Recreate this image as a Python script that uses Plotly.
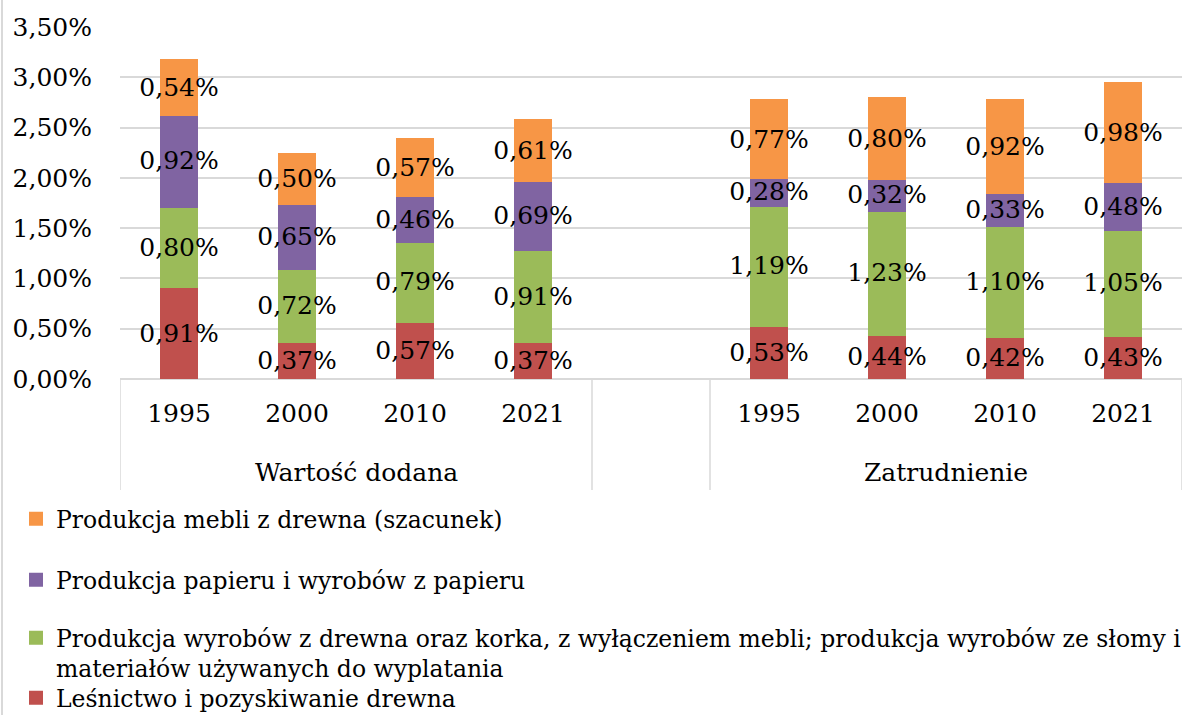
import plotly.graph_objects as go

groups = ["Wartość dodana", "Zatrudnienie"]
years = ["1995", "2000", "2010", "2021"]

series_names = [
    "Leśnictwo i pozyskiwanie drewna",
    "Produkcja wyrobów z drewna oraz korka, z wyłączeniem mebli; produkcja wyrobów ze słomy i<br>materiałów używanych do wyplatania",
    "Produkcja papieru i wyrobów z papieru",
    "Produkcja mebli z drewna (szacunek)",
]
colors = ["#C0504D", "#9BBB59", "#8064A2", "#F79646"]

# values in percent: first 4 = Wartość dodana, last 4 = Zatrudnienie
lesnictwo = [0.91, 0.37, 0.57, 0.37, 0.53, 0.44, 0.42, 0.43]
drewno = [0.80, 0.72, 0.79, 0.91, 1.19, 1.23, 1.10, 1.05]
papier = [0.92, 0.65, 0.46, 0.69, 0.28, 0.32, 0.33, 0.48]
meble = [0.54, 0.50, 0.57, 0.61, 0.77, 0.80, 0.92, 0.98]
values = [lesnictwo, drewno, papier, meble]

# category slots: 4 years, empty gap, 4 years
xpos = [0, 1, 2, 3, 5, 6, 7, 8]
xlabels = years + years

FONT = "DejaVu Serif"
W, H = 1192, 715
ML, MR, MT, MB = 120, 10, 27, 336
PH = H - MT - MB
PW = W - ML - MR


def py(p):
    return (H - MB - p) / PH


def px(p):
    return (p - ML) / PW


fig = go.Figure()
legend_ids = ["legend4", "legend3", "legend2", "legend"]
for name, col, vals, lg in zip(series_names, colors, values, legend_ids):
    fig.add_trace(go.Bar(
        x=xpos, y=vals, name=name,
        marker=dict(color=col, line=dict(color=col, width=2)),
        width=0.30,
        texttemplate="%{y:.2f}%",
        textposition="inside",
        insidetextanchor="middle",
        constraintext="none",
        textangle=0,
        textfont=dict(family=FONT, size=25, color="black"),
        legend=lg,
        hoverinfo="skip",
    ))

legend_tops = [497, 558, 616, 676]
leg_common = dict(font=dict(family=FONT, size=23.5, color="black"), bgcolor="rgba(0,0,0,0)",
                  xref="container", yref="container",
                  xanchor="left", yanchor="top", valign="top", itemclick=False)
layout_legends = {}
for i, lg in enumerate(["legend", "legend2", "legend3", "legend4"]):
    layout_legends[lg] = dict(x=16 / W, y=1 - legend_tops[i] / H, **leg_common)

shapes = []
for xv in [-0.5, 3.5, 4.5, 8.5]:
    shapes.append(dict(type="line", xref="x", yref="paper", x0=xv, x1=xv,
                       y0=0, y1=py(490), line=dict(color="#d9d9d9", width=1.5)))
shapes.append(dict(type="line", xref="paper", yref="paper", x0=px(2), x1=px(2),
                   y0=py(0), y1=py(715), line=dict(color="#d9d9d9", width=2)))

annotations = []
for g, xc in zip(groups, [1.5, 6.5]):
    annotations.append(dict(x=xc, y=py(472), xref="x", yref="paper", text=g,
                            showarrow=False, font=dict(family=FONT, size=25, color="black"),
                            xanchor="center", yanchor="middle"))

fig.update_layout(
    barmode="stack",
    width=W, height=H,
    margin=dict(l=ML, r=MR, t=MT, b=MB, pad=0, autoexpand=False),
    plot_bgcolor="white", paper_bgcolor="white",
    separators=", ",
    font=dict(family=FONT, size=25, color="black"),
    shapes=shapes,
    annotations=annotations,
    showlegend=True,
    **layout_legends,
)
fig.update_yaxes(
    range=[0, 3.5], dtick=0.5, tickformat=".2f", ticksuffix="%",
    showgrid=True, gridcolor="#d9d9d9", gridwidth=1.5,
    zeroline=True, zerolinecolor="#d9d9d9", zerolinewidth=1.5,
    showline=False, ticks="", ticklabelstandoff=27,
    tickfont=dict(family=FONT, size=25, color="black"),
)
fig.update_xaxes(
    range=[-0.5, 8.5], tickvals=xpos, ticktext=xlabels,
    showgrid=False, zeroline=False, showline=False, ticks="",
    ticklabelstandoff=17,
    tickfont=dict(family=FONT, size=25, color="black"),
)

fig.write_html(
    "out.html",
    config={"displayModeBar": False},
    post_script="document.body.style.margin='0px';document.body.style.overflow='hidden';",
)
